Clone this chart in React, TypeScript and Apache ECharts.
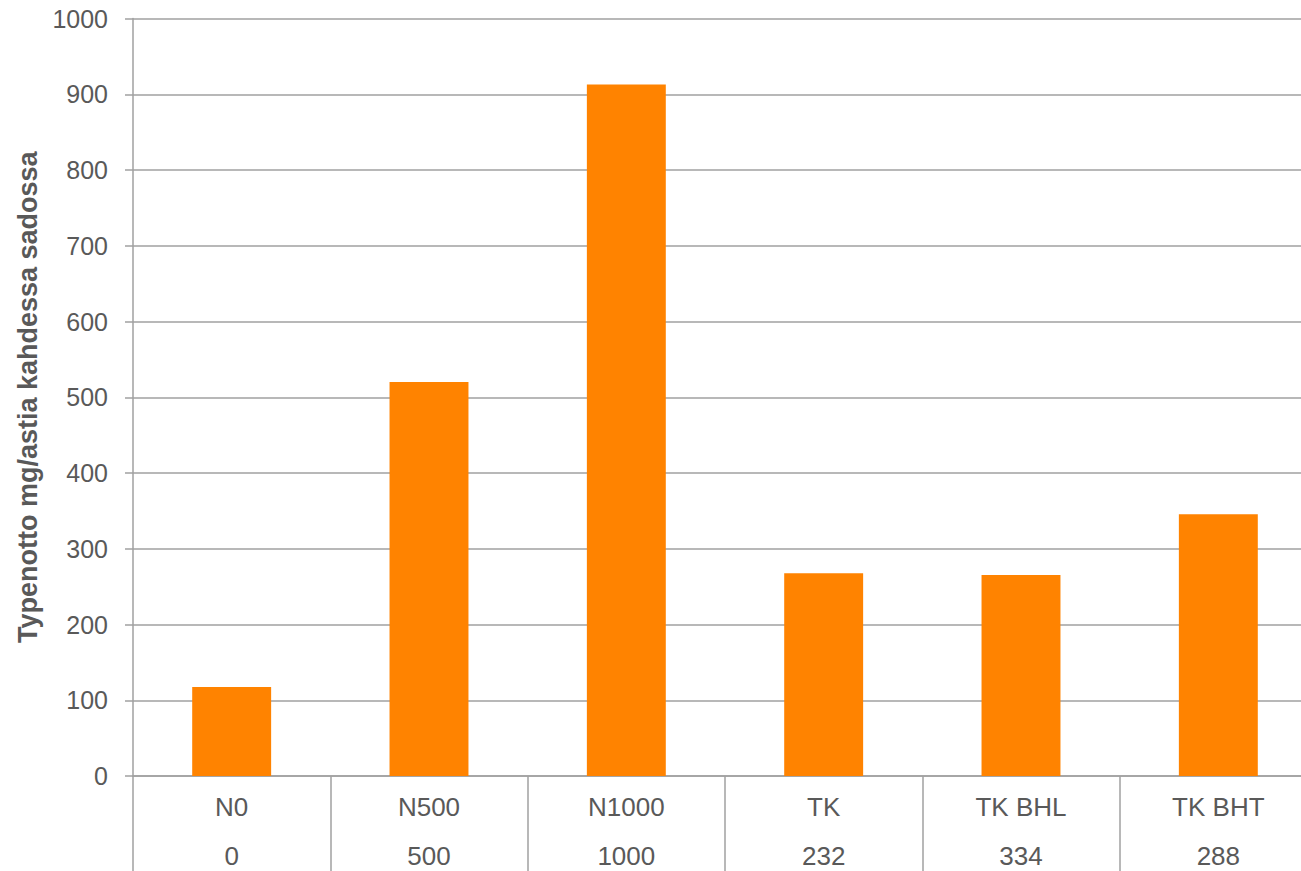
import React, { useEffect, useRef } from "react";
import * as echarts from "echarts";

// Treatment names and their applied nitrogen (second label row)
const treatments = ["N0", "N500", "N1000", "TK", "TK BHL", "TK BHT"];
const appliedN = ["0", "500", "1000", "232", "334", "288"];
// Nitrogen uptake, mg per pot over two harvests
const uptake = [117.5, 520, 913, 267.5, 265.5, 345.5];

const yTicks = { min: 0, max: 1000, interval: 100 };

const TEXT = "#595959";
const LINE = "#a0a0a0";
const FONT = "Liberation Sans, Arial, sans-serif";

export default function App() {
  const ref = useRef<HTMLDivElement>(null);

  useEffect(() => {
    if (!ref.current) return;
    const chart = echarts.init(ref.current, undefined, { renderer: "svg" });
    chart.setOption({
      animation: false,
      textStyle: { fontFamily: FONT },
      grid: {
        left: 133,
        width: 1184,
        top: 18.5,
        bottom: 95,
        containLabel: false,
        outerBoundsMode: "none",
      },
      xAxis: {
        type: "category",
        data: treatments.map((t, i) => `${t}\n${appliedN[i]}`),
        boundaryGap: true,
        axisLine: { show: true, lineStyle: { color: LINE, width: 1.5 } },
        axisTick: {
          show: true,
          interval: 0,
          inside: false,
          length: 100,
          lineStyle: { color: LINE, width: 1.5 },
        },
        axisLabel: {
          interval: 0,
          margin: 6,
          color: TEXT,
          fontSize: 26,
          lineHeight: 49,
          fontFamily: FONT,
        },
        splitLine: { show: false },
      },
      yAxis: {
        type: "value",
        min: yTicks.min,
        max: yTicks.max,
        interval: yTicks.interval,
        name: "Typenotto mg/astia kahdessa sadossa",
        nameLocation: "middle",
        nameRotate: 90,
        nameGap: 92,
        nameTextStyle: {
          color: TEXT,
          fontSize: 27,
          fontWeight: "bold",
          fontFamily: FONT,
        },
        axisLine: { show: true, lineStyle: { color: LINE, width: 1.5 } },
        axisTick: { show: true, length: 8, lineStyle: { color: LINE, width: 1.5 } },
        axisLabel: {
          color: TEXT,
          fontSize: 25,
          margin: 25,
          fontFamily: FONT,
          formatter: (v: number) => String(v),
        },
        splitLine: { show: true, lineStyle: { color: LINE, width: 1.5 } },
      },
      series: [
        {
          type: "bar",
          data: uptake,
          barWidth: "40%",
          itemStyle: { color: "#ff8300" },
        },
      ],
    });
    return () => chart.dispose();
  }, []);

  return (
    <div
      ref={ref}
      style={{ position: "fixed", left: 0, top: 0, width: 1301, height: 871, background: "#fff" }}
    />
  );
}
